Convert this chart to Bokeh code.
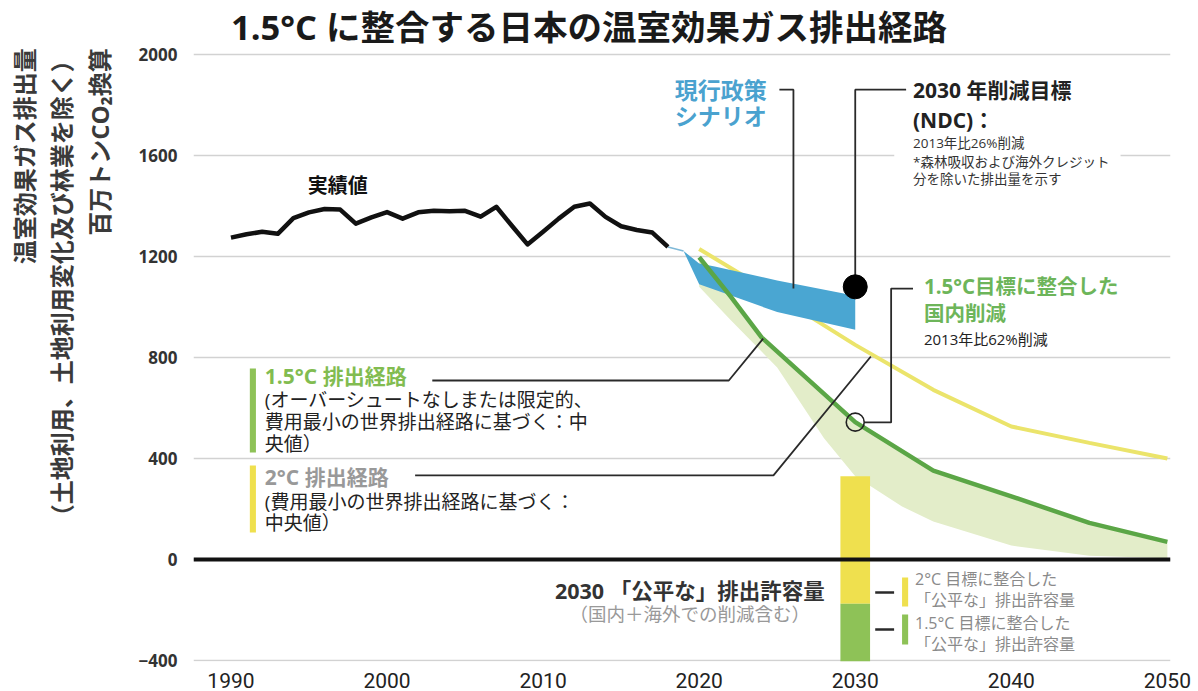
import math
from bokeh.plotting import figure
from bokeh.layouts import row
from bokeh.models import Range1d, FixedTicker, Label, Span, BoxAnnotation
from bokeh.embed import file_html
from bokeh.resources import INLINE

FONT = "Open Sans, Noto Sans CJK JP"

# ---------------- data ----------------
hist_years = list(range(1990, 2019))
hist_values = [1275, 1288, 1298, 1290, 1352, 1375, 1388, 1386, 1330, 1355,
               1376, 1350, 1375, 1381, 1379, 1381, 1358, 1397, 1322, 1248,
               1298, 1350, 1397, 1410, 1357, 1320, 1305, 1295, 1238]

cp_years = [2019, 2020, 2021, 2025, 2030]          # current policy scenario range
cp_high = [1222, 1172, 1160, 1105, 1045]
cp_low = [1222, 1090, 1068, 980, 910]

p2_years = [2020, 2025, 2030, 2035, 2040, 2045, 2050]   # 2°C pathway median
p2_values = [1230, 1043, 850, 672, 527, 462, 400]

p15_years = [2020, 2022, 2024, 2030, 2035, 2040, 2045, 2050]   # 1.5°C pathway median
p15_values = [1197, 1043, 880, 544, 352, 250, 145, 70]

p15_low_years = [2020, 2022, 2025, 2028, 2030, 2033, 2035, 2040, 2045, 2050]
p15_low = [1080, 950, 760, 480, 330, 210, 150, 55, 15, 5]

ndc_year = 2030
ndc_value = 1080

fair_year = 2030
fair_2c = (330, -175)
fair_15 = (-175, -404)

ytick_values = [-400, 0, 400, 800, 1200, 1600, 2000]
xtick_values = [1990, 2000, 2010, 2020, 2030, 2040, 2050]

TITLE = "1.5°C に整合する日本の温室効果ガス排出経路"
YTITLE = ["温室効果ガス排出量", "（土地利用、土地利用変化及び林業を除く）", "百万トンCO₂換算"]


def lab(fig, x, y, text, size, color="#222222", bold=False, align="left",
        baseline="middle", angle=0.0):
    fig.add_layout(Label(x=x, y=y, text=text, text_font=FONT,
                         text_font_size=f"{size}px", text_color=color,
                         text_font_style="bold" if bold else "normal",
                         text_align=align, text_baseline=baseline, angle=angle))


# ---------------- y-axis title strip ----------------
yfig = figure(width=135, height=691, x_range=Range1d(0, 135),
              y_range=Range1d(0, 691), output_backend="svg",
              toolbar_location=None, x_axis_type=None, y_axis_type=None,
              min_border=0)
yfig.outline_line_color = None
yfig.xgrid.visible = False
yfig.ygrid.visible = False
for cx, txt in zip([24, 61, 99], YTITLE):
    lab(yfig, cx, 641, txt, 24, "#3a3a3a", True, "right", "middle", math.pi / 2)

# ---------------- main figure ----------------
p = figure(width=1063, height=691,
           x_range=Range1d(1987.6, 2050.2), y_range=Range1d(-404, 2214),
           output_backend="svg", toolbar_location=None,
           min_border_left=55, min_border_right=28,
           min_border_top=0, min_border_bottom=30)
p.outline_line_color = None
p.xgrid.visible = False
p.ygrid.ticker = FixedTicker(ticks=ytick_values)
p.ygrid.grid_line_color = "#d2d2d2"
p.ygrid.grid_line_width = 1.5

p.yaxis.ticker = FixedTicker(ticks=ytick_values)
p.yaxis.axis_line_color = None
p.yaxis.major_tick_line_color = None
p.yaxis.minor_tick_line_color = None
p.yaxis.major_label_standoff = 10
p.yaxis.major_label_text_font = FONT
p.yaxis.major_label_text_font_style = "bold"
p.yaxis.major_label_text_font_size = "17px"
p.yaxis.major_label_text_color = "#333333"

p.xaxis.ticker = FixedTicker(ticks=xtick_values)
p.xaxis.axis_line_color = None
p.xaxis.major_tick_line_color = None
p.xaxis.minor_tick_line_color = None
p.xaxis.major_label_standoff = 5
p.xaxis.major_label_text_font = "Liberation Sans Narrow, Roboto"
p.xaxis.major_label_text_font_size = "21px"
p.xaxis.major_label_text_color = "#222222"

# ---------------- marks ----------------
band_x = p15_years + p15_low_years[::-1]
band_y = p15_values + p15_low[::-1]
p.patch(band_x, band_y, fill_color="#e3edc9", line_color=None)

p.line(p2_years, p2_values, line_color="#ebe46b", line_width=4)

p.varea(x=cp_years, y1=cp_low, y2=cp_high, fill_color="#4aa6d2")
p.line([hist_years[-1], cp_years[0]], [hist_values[-1], cp_high[0]],
       line_color="#7fb9d8", line_width=1.5)

p.line(p15_years, p15_values, line_color="#5ba646", line_width=4.5)

p.line(hist_years, hist_values, line_color="#111111", line_width=4.5,
       line_join="round")

p.vbar(x=[fair_year], top=[fair_2c[0]], bottom=[fair_2c[1]], width=1.9,
       fill_color="#efe04e", line_color=None)
p.vbar(x=[fair_year], top=[fair_15[0]], bottom=[fair_15[1]], width=1.9,
       fill_color="#8ec257", line_color=None)

p.add_layout(Span(location=0, dimension="width", line_color="#111111", line_width=4))

# mask behind NDC note
p.add_layout(BoxAnnotation(left=2032.5, right=2047.0, bottom=1580, top=1620,
                           fill_color="white", fill_alpha=1, line_color=None,
                           level="underlay"))

# ---------------- leader lines ----------------
LC = "#2a2a2a"
def leader(xs, ys, w=1.8):
    p.line(xs, ys, line_color=LC, line_width=w)

leader([2025.14, 2026.04, 2026.04], [1861, 1861, 1073])
leader([2033.26, ndc_year, ndc_year], [1861, 1861, ndc_value])
leader([2033.7, 2032.3, 2032.3, 2030.6], [1073, 1073, 543, 543])
leader([2002.9, 2021.9, 2024.1], [709, 709, 875])
leader([2001.8, 2024.76, 2031.0], [333, 333, 804])
leader([2031.28, 2032.49], [-131, -131], 2.5)
leader([2031.28, 2032.49], [-277, -277], 2.5)

p.scatter([ndc_year], [ndc_value], size=24, fill_color="black", line_color="black")
p.scatter([2030], [p15_values[p15_years.index(2030)]], size=18, fill_color=None,
          line_color="#222222", line_width=1.6)

# legend swatches
p.quad(left=[1991.21], right=[1991.6], top=[756], bottom=[424],
       fill_color="#8ec257", line_color=None)
p.quad(left=[1991.21], right=[1991.6], top=[372], bottom=[107],
       fill_color="#efe04e", line_color=None)
p.quad(left=[2033.0], right=[2033.39], top=[-71], bottom=[-186],
       fill_color="#efe04e", line_color=None)
p.quad(left=[2033.0], right=[2033.39], top=[-218], bottom=[-337],
       fill_color="#8ec257", line_color=None)

# ---------------- texts ----------------
lab(p, 1990.0, 2111, TITLE, 34.5, "#1a1a1a", True)

lab(p, 1994.92, 1481, "実績値", 20, "#111111", True)

lab(p, 2018.43, 1861, "現行政策", 23, "#4aa2cf", True)
lab(p, 2018.43, 1758, "シナリオ", 23, "#4aa2cf", True)

lab(p, 2033.7, 1861, "2030 年削減目標", 21, "#222222", True)
lab(p, 2033.7, 1739, "(NDC)：", 21, "#222222", True)
lab(p, 2033.7, 1648, "2013年比26%削減", 13.5, "#333333")
lab(p, 2033.7, 1576, "*森林吸収および海外クレジット", 13.5, "#333333")
lab(p, 2033.7, 1509, "分を除いた排出量を示す", 13.5, "#333333")

lab(p, 2034.4, 1085, "1.5°C目標に整合した", 20.5, "#6db55a", True)
lab(p, 2034.4, 978, "国内削減", 20.5, "#6db55a", True)
lab(p, 2034.4, 875, "2013年比62%削減", 15, "#222222")

lab(p, 1992.17, 725, "1.5°C 排出経路", 21, "#82bc50", True)
lab(p, 1992.17, 630, "(オーバーシュートなしまたは限定的、", 19, "#222222")
lab(p, 1992.17, 543, "費用最小の世界排出経路に基づく：中", 19, "#222222")
lab(p, 1992.17, 459, "央値）", 19, "#222222")

lab(p, 1992.17, 325, "2°C 排出経路", 21, "#999999", True)
lab(p, 1992.17, 226, "(費用最小の世界排出経路に基づく：", 19, "#222222")
lab(p, 1992.17, 143, "中央値）", 19, "#222222")

lab(p, 2019.4, -123, "2030 「公平な」排出許容量", 21.5, "#333333", True, "center")
lab(p, 2019.4, -214, "（国内＋海外での削減含む）", 18.5, "#999999", False, "center")

lab(p, 2033.83, -79, "2°C 目標に整合した", 16, "#8a8a8a")
lab(p, 2033.83, -162, "「公平な」排出許容量", 16, "#8a8a8a")
lab(p, 2033.83, -250, "1.5°C 目標に整合した", 16, "#8a8a8a")
lab(p, 2033.83, -333, "「公平な」排出許容量", 16, "#8a8a8a")

layout = row(yfig, p)
open("out.html", "w").write(file_html(layout, INLINE))
